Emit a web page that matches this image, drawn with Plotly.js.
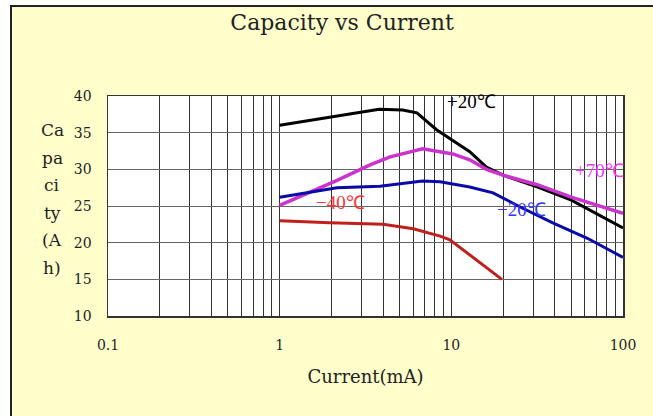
<!DOCTYPE html>
<html>
<head>
<meta charset="utf-8">
<script src="https://cdn.plot.ly/plotly-3.0.1.min.js"></script>
<style>
  html, body { margin: 0; padding: 0; background: #ffffff; width: 653px; height: 416px; overflow: hidden; }
  #frame { position: absolute; left: 10px; top: 5px; width: 643px; height: 411px;
           border-left: 2px solid #222; border-top: 2px solid #222; background: #FFFFCC; }
  #chart { position: absolute; left: 0; top: 0; width: 641px; height: 409px; }
</style>
</head>
<body>
<div id="frame"><div id="chart"></div></div>
<script>
// Current (mA) and capacity (Ah)
const plus20_x  = [1, 3.8, 5.2, 6.3, 8.2, 12.8, 16, 20, 31.6, 50, 100];
const plus20_y  = [36.0, 38.2, 38.1, 37.7, 35.4, 32.4, 30.3, 29.2, 27.6, 25.8, 22.0];
const plus70_x  = [1, 2.16, 3.36, 4.4, 6.8, 10.2, 12.8, 16, 20, 31.6, 50, 100];
const plus70_y  = [25.1, 28.5, 30.6, 31.7, 32.8, 32.1, 31.3, 30.0, 29.2, 27.9, 26.2, 24.0];
const minus20_x = [1, 2.16, 3.84, 4.8, 6.8, 8.6, 12.8, 17.5, 25, 39, 62, 100];
const minus20_y = [26.2, 27.5, 27.7, 28.0, 28.4, 28.3, 27.6, 26.8, 24.9, 22.7, 20.6, 18.0];
const minus40_x = [1, 1.96, 4.0, 6.0, 8.6, 9.8, 19.7];
const minus40_y = [23.0, 22.7, 22.5, 21.9, 20.9, 20.4, 15.0];

const seriesNames = ['+20℃', '+70℃', '−20℃', '−40℃'];
const xTickVals = [0.1, 1, 10, 100];
const xTickText = ['0.1', '1', '10', '100'];
const yTickVals = [10, 15, 20, 25, 30, 35, 40];
const yTitleLines = ['Ca', 'pa', 'ci', 'ty', '(A', 'h)'];

const serif = '"DejaVu Serif", "Liberation Serif", serif';

const traces = [
  {x: plus20_x,  y: plus20_y,  name: seriesNames[0], line: {color: '#000000', width: 3}},
  {x: plus70_x,  y: plus70_y,  name: seriesNames[1], line: {color: '#CC33CC', width: 3.5}},
  {x: minus20_x, y: minus20_y, name: seriesNames[2], line: {color: '#0A0AA8', width: 3}},
  {x: minus40_x, y: minus40_y, name: seriesNames[3], line: {color: '#C0201C', width: 3}}
].map(t => Object.assign({type: 'scatter', mode: 'lines', hoverinfo: 'skip'}, t));

const labelPos = [
  {x: 1.12,  y: 39.2, color: '#000000'},
  {x: 1.865, y: 29.8, color: '#FF33FF'},
  {x: 1.411, y: 24.5, color: '#3333FF'},
  {x: 0.357, y: 25.5, color: '#FF3333'}
];

const annotations = labelPos.map((p, i) => ({
  x: p.x, y: p.y, xref: 'x', yref: 'y', text: seriesNames[i], showarrow: false,
  xanchor: 'center', yanchor: 'middle',
  font: {family: '"Liberation Serif", serif', size: 19, color: p.color}
}));

yTitleLines.forEach((s, i) => {
  annotations.push({
    text: s, showarrow: false,
    xref: 'paper', yref: 'paper',
    x: -0.108, xanchor: 'center',
    y: 0.845 - i * 0.125, yanchor: 'middle',
    font: {family: serif, size: 17, color: '#222'}
  });
});

const layout = {
  width: 641, height: 409,
  margin: {l: 96, r: 30, t: 89, b: 100},
  paper_bgcolor: '#FFFFCC',
  plot_bgcolor: '#FFFFFF',
  showlegend: false,
  title: {
    text: 'Capacity vs Current',
    font: {family: serif, size: 22, color: '#222'},
    x: 0.515, xanchor: 'center', xref: 'container',
    y: 0.963, yanchor: 'middle', yref: 'container'
  },
  xaxis: {
    type: 'log', range: [-1, 2],
    tickvals: xTickVals, ticktext: xTickText,
    showgrid: true, gridcolor: '#333', gridwidth: 1,
    minor: {dtick: 'D1', showgrid: true, gridcolor: '#333', gridwidth: 1, ticks: ''},
    ticks: '', ticklabelstandoff: 16,
    showline: true, linecolor: '#333', linewidth: 1.5, mirror: true,
    zeroline: false,
    tickfont: {family: serif, size: 14, color: '#222'},
    title: {text: 'Current(mA)', font: {family: serif, size: 18, color: '#222'}, standoff: 18}
  },
  yaxis: {
    range: [10, 40], tickvals: yTickVals,
    showgrid: true, gridcolor: '#666', gridwidth: 1,
    ticks: '', ticklabelstandoff: 12,
    showline: true, linecolor: '#333', linewidth: 1.5, mirror: true,
    zeroline: false,
    tickfont: {family: serif, size: 14, color: '#222'}
  },
  annotations: annotations
};

Plotly.newPlot('chart', traces, layout, {displayModeBar: false, staticPlot: true});
</script>
</body>
</html>
